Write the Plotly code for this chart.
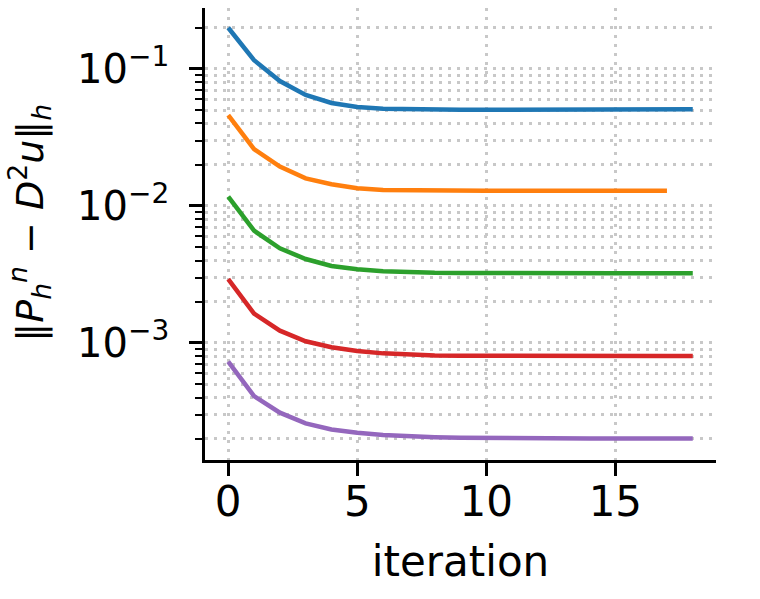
import plotly.graph_objects as go

iterations = list(range(19))
iterations_orange = list(range(18))

err_blue = [0.200, 0.116, 0.0817, 0.0646, 0.0565, 0.0528, 0.0512, 0.0506, 0.0504, 0.0503,
            0.0503, 0.0504, 0.0505, 0.0506, 0.0507, 0.0508, 0.0508, 0.0509, 0.0509]
err_orange = [0.0461, 0.0260, 0.0194, 0.0159, 0.0144, 0.01345, 0.0131, 0.0130, 0.01295,
              0.01292, 0.0129, 0.0129, 0.0129, 0.0129, 0.0129, 0.0129, 0.0129, 0.0129]
err_green = [0.0117, 0.0066, 0.00491, 0.0041, 0.00365, 0.00345, 0.00334, 0.00328, 0.00325,
             0.00324, 0.00323, 0.00323, 0.00323, 0.00323, 0.00323, 0.00323, 0.00323, 0.00323, 0.00323]
err_red = [0.00293, 0.00164, 0.00123, 0.00103, 0.00093, 0.000875, 0.00084, 0.000822, 0.000812,
           0.000807, 0.000805, 0.000804, 0.000804, 0.000804, 0.000804, 0.000804, 0.000804, 0.000804, 0.000804]
err_purple = [0.00073, 0.00041, 0.00031, 0.000259, 0.000234, 0.000221, 0.000213, 0.000208, 0.000205,
              0.000203, 0.000202, 0.000201, 0.000201, 0.000201, 0.000201, 0.000201, 0.000201, 0.000201, 0.000201]

x_ticks = [0, 5, 10, 15]
y_ticks = [1e-3, 1e-2, 1e-1]
y_ticktext = ["10<sup>−3</sup>", "10<sup>−2</sup>", "10<sup>−1</sup>"]
y_minor = [m * 10.0 ** e for e in (-4, -3, -2, -1) for m in range(2, 10)]
y_label = "‖<i>P</i><sub><i>h</i></sub><sup><i>n</i></sup> − <i>D</i><sup>2</sup><i>u</i>‖<sub><i>h</i></sub>"

series = [
    (iterations, err_blue, "#1f77b4"),
    (iterations_orange, err_orange, "#ff7f0e"),
    (iterations, err_green, "#2ca02c"),
    (iterations, err_red, "#d62728"),
    (iterations, err_purple, "#9467bd"),
]

fig = go.Figure()
for xs, ys, c in series:
    fig.add_trace(go.Scatter(x=xs, y=ys, mode="lines", line=dict(color=c, width=4.5),
                             showlegend=False))

grid = dict(showgrid=True, gridcolor="#c8c8c8", griddash="3px,6px", gridwidth=2.6)

fig.update_layout(
    width=760, height=599,
    margin=dict(l=205, r=44, t=8, b=139),
    paper_bgcolor="white", plot_bgcolor="white",
    font=dict(family="DejaVu Sans", size=40, color="black"),
)
fig.update_xaxes(
    range=[-0.9, 18.9], tickvals=x_ticks, ticktext=[str(v) for v in x_ticks],
    showline=True, linecolor="black", linewidth=2.5,
    ticks="outside", ticklen=13, tickwidth=2.5, tickcolor="black",
    tickfont=dict(family="DejaVu Sans", size=42, color="black"),
    ticklabelstandoff=-10,
    title=dict(text="iteration", font=dict(family="DejaVu Sans", size=42, color="black"), standoff=22),
    zeroline=False, **grid,
)
fig.update_yaxes(
    type="log", range=[-3.854, -0.555],
    tickvals=y_ticks, ticktext=y_ticktext,
    showline=True, linecolor="black", linewidth=2.5,
    ticks="outside", ticklen=13, tickwidth=2.5, tickcolor="black",
    tickfont=dict(family="DejaVu Sans", size=40, color="black"),
    ticklabelstandoff=12,
    minor=dict(tickvals=y_minor, ticks="outside", ticklen=7, tickwidth=2, tickcolor="black",
               showgrid=True, gridcolor="#c8c8c8", griddash="3px,6px", gridwidth=2.6),
    zeroline=False, **grid,
)
fig.add_annotation(
    text=y_label, xref="paper", yref="paper", x=0, y=0.525,
    xanchor="center", yanchor="middle", xshift=-175, textangle=-90,
    showarrow=False, font=dict(family="DejaVu Sans", size=38, color="black"),
)

fig.write_html("out.html")
